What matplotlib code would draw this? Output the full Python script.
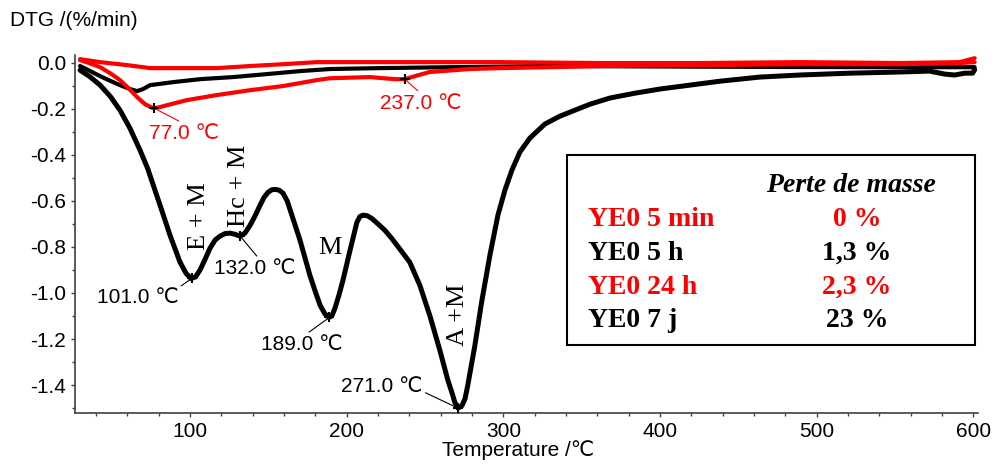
import matplotlib.pyplot as plt
from matplotlib.patches import Rectangle

# DTG curves (temperature in degC, DTG in %/min)
t_7j = [29.8, 36, 42.6, 49, 55.3, 61.7, 68.1, 73, 77.6, 82.4, 87.2, 93.6, 97.5, 100.6, 103.5, 106.4,
        109.5, 112.7, 116, 119.1, 122.3, 125.5, 128.7, 131.9, 135, 138.3, 141.5, 144.6, 147.2, 149.7,
        152, 154.2, 156.8, 159.3, 162, 165.0, 170.2, 176.5, 180, 183, 186, 188.7, 190.5, 192.5, 195,
        197.6, 202.1, 206.5, 208.4, 210.4, 213, 216, 220, 224.4, 229, 234, 240.3, 246.7, 253, 259.5,
        264.6, 267.5, 269, 271, 273.5, 275.5, 277.3, 281.8, 286.3, 291.4, 296.5, 301, 305.4, 310.5,
        316.9, 326.5, 336, 345.6, 355.2, 368, 383.9, 399.8, 419, 438.1, 463.6, 489.2, 521, 553, 572,
        581.7, 588, 594.5, 599.5, 600.8]
d_7j = [-0.032, -0.06, -0.097, -0.145, -0.206, -0.285, -0.38, -0.46, -0.553, -0.65, -0.749, -0.866,
        -0.915, -0.937, -0.93, -0.9, -0.855, -0.806, -0.77, -0.753, -0.742, -0.74, -0.745, -0.753,
        -0.74, -0.706, -0.665, -0.62, -0.585, -0.563, -0.552, -0.55, -0.553, -0.566, -0.6, -0.662,
        -0.771, -0.923, -0.995, -1.053, -1.09, -1.106, -1.1, -1.066, -1.01, -0.945, -0.815, -0.693,
        -0.668, -0.662, -0.664, -0.676, -0.7, -0.728, -0.765, -0.81, -0.867, -0.967, -1.097, -1.25,
        -1.38, -1.44, -1.475, -1.5, -1.49, -1.46, -1.4, -1.228, -1.032, -0.836, -0.662, -0.553, -0.467,
        -0.388, -0.327, -0.266, -0.232, -0.206, -0.18, -0.153, -0.132, -0.114, -0.097, -0.08, -0.062,
        -0.053, -0.045, -0.04, -0.036, -0.049, -0.053, -0.045, -0.045, -0.03]

t_5h = [29.8, 36, 42.6, 49, 55.3, 61.7, 66.2, 70, 74.5, 89.1, 106.4, 127.4, 149.1, 170.2, 189.3, 221.2,
        265.9, 329.7, 400, 480, 560, 600.8]
d_5h = [-0.014, -0.035, -0.058, -0.078, -0.097, -0.114, -0.123, -0.114, -0.097, -0.084, -0.071, -0.062,
        -0.049, -0.036, -0.027, -0.023, -0.019, -0.014, -0.016, -0.018, -0.019, -0.019]

t_24h = [29.8, 36, 42.6, 49, 55.3, 61, 66.2, 71.3, 76.4, 80.5, 85.3, 98.1, 117.2, 138.3, 159.3, 181,
         189.3, 214.8, 230.8, 237.1, 243.5, 253, 278.6, 297.8, 329.7, 361.6, 425.4, 489.2, 553, 591.3,
         600.8]
d_24h = [0.012, -0.002, -0.019, -0.045, -0.075, -0.112, -0.149, -0.18, -0.197, -0.193, -0.184, -0.162,
         -0.14, -0.119, -0.101, -0.075, -0.067, -0.062, -0.071, -0.071, -0.058, -0.04, -0.027, -0.023,
         -0.019, -0.014, -0.01, -0.006, -0.006, -0.001, 0.003]

t_5min = [29.8, 42.6, 59.8, 74.5, 95.5, 117.2, 138.3, 159.3, 181, 234, 297.8, 361.6, 425.4, 489.2,
          553, 591.3, 600.8]
d_5min = [0.016, 0.003, -0.01, -0.023, -0.023, -0.023, -0.014, -0.006, 0.003, 0.003, 0.003, -0.001,
          -0.001, 0.003, -0.001, 0.003, 0.02]

# peak annotations
peak_t = [77, 237, 101, 132, 189, 271]
peak_d = [-0.197, -0.071, -0.937, -0.753, -1.106, -1.5]
peak_text = ['77.0 ℃', '237.0 ℃', '101.0 ℃', '132.0 ℃', '189.0 ℃', '271.0 ℃']
peak_color = ['red', 'red', 'black', 'black', 'black', 'black']
label_t = [96.2, 247.4, 66.5, 141.5, 171.5, 222.5]
label_d = [-0.306, -0.175, -1.019, -0.893, -1.223, -1.408]
label_rel = [(0.5, 1), (0.5, 1), (1, 1), (0.55, 1), (0.54, 1), (1.03, 0.2)]

# phase labels
phase_text = ['E + M', 'Hc + M', 'M', 'A +M']
phase_t = [105.7, 131.5, 189.6, 271.2]
phase_d = [-0.667, -0.536, -0.806, -1.093]
phase_rot = [90, 90, 0, 90]

# table
samples = ['YE0 5 min', 'YE0 5 h', 'YE0 24 h', 'YE0 7 j']
losses = ['0 %', '1,3 %', '2,3 %', '23 %']
sample_colors = ['red', 'black', 'red', 'black']

sans = ['Liberation Sans', 'DejaVu Sans']
serif = ['Liberation Serif', 'DejaVu Serif']

fig = plt.figure(figsize=(9.94, 4.66), dpi=100)
ax = fig.add_axes([0.0755, 0.1144, 0.9085, 0.7676])

kw = dict(solid_capstyle='round', solid_joinstyle='round')
ax.plot(t_7j, d_7j, color='black', lw=3.6, **kw)
ax.plot(t_5h, d_5h, color='black', lw=3.0, **kw)
ax.plot(t_24h, d_24h, color='red', lw=3.0, **kw)
ax.plot(t_5min, d_5min, color='red', lw=3.0, **kw)

ax.plot(peak_t, peak_d, '+', color='black', ms=7, mew=1.5, zorder=5)

for i in range(len(peak_t)):
    ax.annotate(peak_text[i], xy=(peak_t[i], peak_d[i]), xytext=(label_t[i], label_d[i]),
                ha='center', va='center', fontsize=15, color=peak_color[i], family=sans,
                arrowprops=dict(arrowstyle='-', color=peak_color[i], lw=0.8,
                                relpos=label_rel[i], shrinkA=0, shrinkB=0))

for i in range(len(phase_text)):
    ax.text(phase_t[i], phase_d[i], phase_text[i], rotation=phase_rot[i], ha='center', va='center',
            fontsize=19, family=serif)

ax.set_xlim(26.6, 603)
ax.set_ylim(-1.52, 0.034)
ax.set_xticks([100, 200, 300, 400, 500, 600])
ax.set_xticks(range(40, 601, 20), minor=True)
ax.set_yticks([0.0, -0.2, -0.4, -0.6, -0.8, -1.0, -1.2, -1.4])
ax.set_yticklabels(['0.0', '-0.2', '-0.4', '-0.6', '-0.8', '-1.0', '-1.2', '-1.4'])
ax.set_yticks([-0.1, -0.3, -0.5, -0.7, -0.9, -1.1, -1.3, -1.5], minor=True)
ax.tick_params(which='both', direction='out', length=3, width=1, color='#404040', labelsize=15)
ax.tick_params(which='minor', length=2)
for lab in ax.get_xticklabels() + ax.get_yticklabels():
    lab.set_family(sans)

for s in ['top', 'right']:
    ax.spines[s].set_visible(False)
for s in ['left', 'bottom']:
    ax.spines[s].set_color('#404040')
    ax.spines[s].set_linewidth(1.2)

fig.text(518 / 994, 1 - 450 / 466, 'Temperature /℃', fontsize=15, family=sans, ha='center', va='center')
fig.text(0.01, 0.955, 'DTG /(%/min)', fontsize=15, family=sans, va='center', ha='left')

# table box
fig.patches.append(Rectangle((567 / 994, 1 - 345 / 466), 408 / 994, 190 / 466, transform=fig.transFigure,
                             fill=False, edgecolor='black', lw=1.5))
fig.text(0.856, 0.601, 'Perte de masse', fontsize=20, family=serif, style='italic', weight='bold',
         ha='center', va='center')
row_y = [0.528, 0.457, 0.384, 0.313]
for i in range(len(samples)):
    fig.text(0.5915, row_y[i], samples[i], fontsize=20, family=serif, weight='bold',
             color=sample_colors[i], ha='left', va='center')
    fig.text(0.862, row_y[i], losses[i], fontsize=20, family=serif, weight='bold',
             color=sample_colors[i], ha='center', va='center')

fig.savefig('out.png', dpi=100)
